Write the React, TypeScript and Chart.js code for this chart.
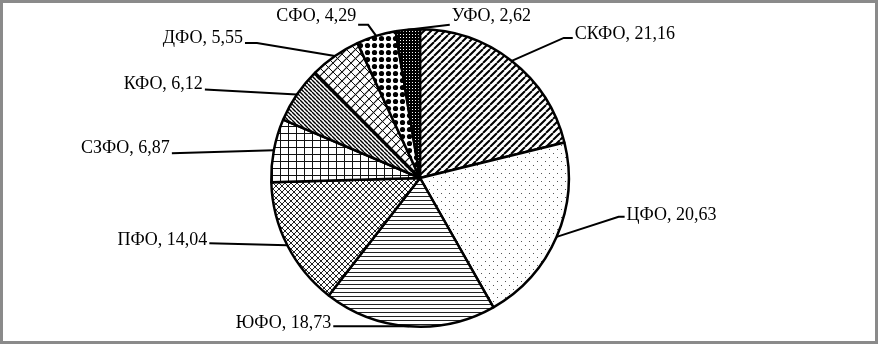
import React, { useEffect, useRef } from 'react';
import { Chart, registerables } from 'chart.js';

Chart.register(...registerables);

const categories = ['СКФО', 'ЦФО', 'ЮФО', 'ПФО', 'СЗФО', 'КФО', 'ДФО', 'СФО', 'УФО'];
const shares = [21.16, 20.63, 18.73, 14.04, 6.87, 6.12, 5.55, 4.29, 2.62];
const patternKinds = ['diagUp', 'dots', 'horiz', 'diamond', 'grid', 'diagDown', 'brick', 'bigDots', 'dense'];
// leader layout per label: elbow offset from slice edge [dx, dy], horizontal tail length, baseline shift
const labelLayout = [
  [52, -23, 9, 1],
  [62, -20, 6, 3],
  [-76, 0, 0, 2],
  [-78, -2, 0, 2],
  [-102, 3, 0, 0],
  [-92, -5, 0, -1],
  [-78, -13, 12, 0],
  [-8, -11, 10, -4],
  [42, -5, 0, -4],
];

function makePattern(kind: string): CanvasPattern | string {
  const c = document.createElement('canvas');
  const g = c.getContext('2d');
  if (!g) return '#fff';
  const set = (w: number, h: number) => {
    c.width = w;
    c.height = h;
    g.fillStyle = '#fff';
    g.fillRect(0, 0, w, h);
  };
  const diag = (s: number, up: boolean, lw: number, color: string) => {
    g.strokeStyle = color;
    g.lineWidth = lw;
    g.beginPath();
    for (let k = -1; k <= 1; k++) {
      if (up) {
        g.moveTo(k * s, s);
        g.lineTo(k * s + s, 0);
      } else {
        g.moveTo(k * s, 0);
        g.lineTo(k * s + s, s);
      }
    }
    g.stroke();
  };
  switch (kind) {
    case 'diagUp':
      set(7, 7);
      diag(7, true, 2, '#000');
      break;
    case 'dots':
      set(8, 8);
      g.fillStyle = '#555';
      g.fillRect(1, 1, 1, 1);
      g.fillRect(5, 5, 1, 1);
      break;
    case 'horiz':
      set(4, 4);
      g.fillStyle = '#222';
      g.fillRect(0, 0, 4, 1);
      break;
    case 'diamond':
      set(6, 6);
      diag(6, true, 1, '#222');
      diag(6, false, 1, '#222');
      break;
    case 'grid':
      set(8, 7);
      g.fillStyle = '#111';
      g.fillRect(0, 0, 1, 7);
      g.fillRect(0, 0, 8, 1);
      break;
    case 'diagDown':
      set(4, 4);
      diag(4, false, 1.4, '#000');
      break;
    case 'brick':
      set(9, 9);
      diag(9, true, 1.2, '#111');
      diag(9, false, 1, '#111');
      break;
    case 'bigDots':
      set(7, 7);
      g.fillStyle = '#000';
      g.beginPath();
      g.arc(3.5, 3.5, 2.6, 0, Math.PI * 2);
      g.fill();
      break;
    case 'dense':
      set(3, 3);
      g.fillStyle = '#000';
      g.fillRect(0, 0, 3, 3);
      g.fillStyle = '#fff';
      g.fillRect(1, 1, 1, 1);
      break;
  }
  return g.createPattern(c, 'repeat') || '#fff';
}

const fmt = (v: number) => v.toFixed(2).replace('.', ',');

const framePlugin = {
  id: 'frame',
  beforeDraw(chart: any) {
    const ctx = chart.ctx;
    ctx.save();
    ctx.fillStyle = '#fff';
    ctx.fillRect(0, 0, chart.width, chart.height);
    ctx.restore();
  },
  afterDraw(chart: any) {
    const ctx = chart.ctx;
    ctx.save();
    ctx.strokeStyle = '#8a8a8a';
    ctx.lineWidth = 3;
    ctx.strokeRect(1.5, 1.5, chart.width - 3, chart.height - 3);
    ctx.restore();
  },
};

const labelPlugin = {
  id: 'leaderLabels',
  afterDatasetsDraw(chart: any) {
    const ctx = chart.ctx;
    const meta = chart.getDatasetMeta(0);
    const labels = chart.data.labels as string[];
    const values = chart.data.datasets[0].data as number[];
    ctx.save();
    ctx.font = '18px "Liberation Serif", "Times New Roman", serif';
    ctx.fillStyle = '#000';
    ctx.strokeStyle = '#000';
    ctx.lineWidth = 2;
    ctx.textBaseline = 'alphabetic';
    meta.data.forEach((arc: any, i: number) => {
      const p = arc.getProps(['x', 'y', 'startAngle', 'endAngle', 'outerRadius'], true);
      const mid = (p.startAngle + p.endAngle) / 2;
      const ex = p.x + Math.cos(mid) * p.outerRadius;
      const ey = p.y + Math.sin(mid) * p.outerRadius;
      const [dx, dy, tail, shift] = labelLayout[i];
      const right = dx > 0;
      const bx = ex + dx;
      const by = ey + dy;
      const tx = bx + (right ? tail : -tail);
      ctx.beginPath();
      ctx.moveTo(ex, ey);
      ctx.lineTo(bx, by);
      ctx.lineTo(tx, by);
      ctx.stroke();
      ctx.textAlign = right ? 'left' : 'right';
      ctx.fillText(`${labels[i]}, ${fmt(values[i])}`, tx + (right ? 2 : -2), by + shift);
    });
    ctx.restore();
  },
};

export default function App() {
  const ref = useRef<HTMLCanvasElement>(null);
  useEffect(() => {
    if (!ref.current) return;
    const patterns = patternKinds.map(makePattern);
    const chart = new Chart(ref.current, {
      type: 'pie',
      data: {
        labels: categories,
        datasets: [
          {
            data: shares,
            backgroundColor: patterns as any,
            borderColor: '#000',
            borderWidth: 2.5,
            hoverOffset: 0,
          },
        ],
      },
      options: {
        responsive: false,
        animation: false,
        events: [],
        layout: { padding: { top: 28, bottom: 16, left: 100, right: 138 } },
        plugins: { legend: { display: false }, tooltip: { enabled: false } },
      },
      plugins: [framePlugin, labelPlugin],
    });
    return () => chart.destroy();
  }, []);
  return (
    <div style={{ position: 'fixed', left: 0, top: 0, width: 878, height: 344, background: '#fff' }}>
      <canvas ref={ref} width={878} height={344} style={{ display: 'block', width: 878, height: 344 }} />
    </div>
  );
}
